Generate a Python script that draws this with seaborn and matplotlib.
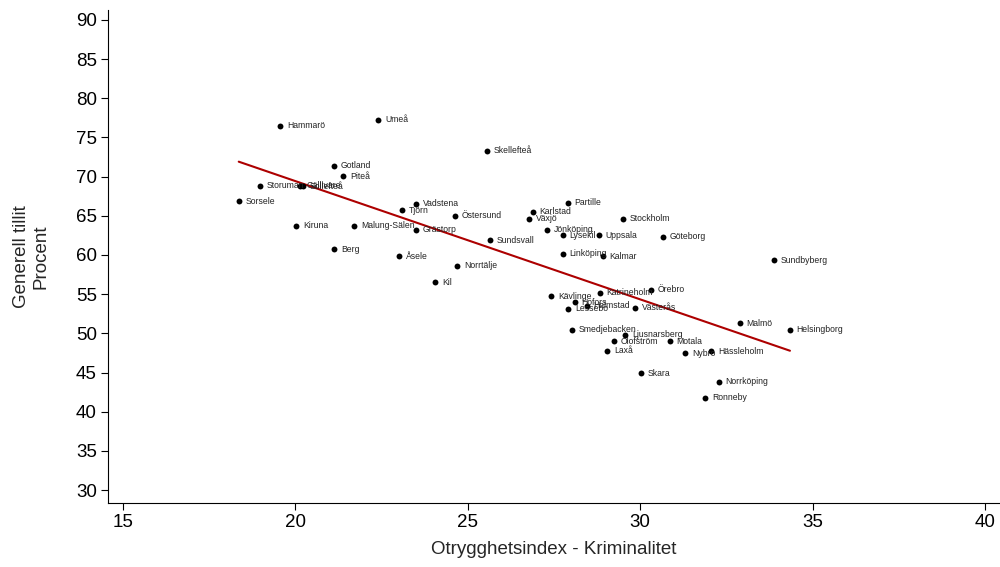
import matplotlib
matplotlib.use("Agg")
import matplotlib.pyplot as plt
import seaborn as sns
import pandas as pd
import numpy as np

kommuner = ["Hammarö", "Umeå", "Skellefteå", "Gotland", "Piteå", "Storuman",
            "Gällivare", "Sollefteå", "Sorsele", "Vadstena", "Tjörn", "Östersund",
            "Kiruna", "Malung-Sälen", "Grästorp", "Berg", "Åsele", "Norrtälje",
            "Kil", "Sundsvall", "Partille", "Karlstad", "Växjö", "Jönköping",
            "Lysekil", "Uppsala", "Stockholm", "Göteborg", "Linköping", "Kalmar",
            "Sundbyberg", "Kävlinge", "Katrineholm", "Örebro", "Hofors", "Halmstad",
            "Lessebo", "Västerås", "Malmö", "Smedjebacken", "Ljusnarsberg",
            "Olofström", "Motala", "Laxå", "Nybro", "Hässleholm", "Skara",
            "Norrköping", "Ronneby", "Helsingborg"]

otrygghet = [19.57, 22.41, 25.56, 21.13, 21.39, 18.99,
             20.14, 20.21, 18.36, 23.51, 23.10, 24.64,
             20.03, 21.71, 23.51, 21.13, 23.01, 24.69,
             24.06, 25.65, 27.90, 26.89, 26.78, 27.30,
             27.76, 28.80, 29.50, 30.65, 27.76, 28.92,
             33.87, 27.42, 28.82, 30.31, 28.10, 28.45,
             27.91, 29.86, 32.88, 28.01, 29.57,
             29.23, 30.86, 29.04, 31.30, 32.06, 30.03,
             32.28, 31.89, 34.34]

tillit = [76.47, 77.23, 73.28, 71.36, 70.08, 68.81,
          68.81, 68.75, 66.89, 66.51, 65.74, 64.98,
          63.70, 63.70, 63.19, 60.76, 59.87, 58.60,
          56.55, 61.91, 66.64, 65.49, 64.60, 63.19,
          62.55, 62.55, 64.60, 62.30, 60.13, 59.87,
          59.36, 54.76, 55.19, 55.57, 53.96, 53.53,
          53.15, 53.28, 51.28, 50.47, 49.83,
          49.02, 49.02, 47.79, 47.45, 47.70, 44.90,
          43.79, 41.79, 50.47]

x_ticks = [15, 20, 25, 30, 35, 40]
y_ticks = [30, 35, 40, 45, 50, 55, 60, 65, 70, 75, 80, 85, 90]

df = pd.DataFrame({"kommun": kommuner, "x": otrygghet, "y": tillit})

sns.set_style("white")
plt.rcParams["font.family"] = ["Liberation Sans", "DejaVu Sans"]

fig = plt.figure(figsize=(10, 5.67), dpi=100)
ax = fig.add_axes([0.108, 0.1128, 0.891, 0.87])

sns.regplot(data=df, x="x", y="y", scatter=False, ci=None, ax=ax,
            line_kws={"color": "#ad0000", "linewidth": 1.5}, truncate=True)
sns.scatterplot(data=df, x="x", y="y", ax=ax, color="black", s=18,
                edgecolor="black", linewidth=0, zorder=3)

for _, r in df.iterrows():
    ax.annotate(r["kommun"], (r["x"], r["y"]), xytext=(4.8, 0),
                textcoords="offset points", fontsize=6.2, va="center",
                ha="left", color="#222222")

ax.set_xlim(14.57, 40.4)
ax.set_ylim(28.34, 91.3)
ax.set_xticks(x_ticks)
ax.set_yticks(y_ticks)
ax.tick_params(axis="both", which="major", direction="out", length=5,
               width=0.8, labelsize=13.5, colors="black", left=True, bottom=True,
               pad=3)
for lab in ax.get_yticklabels():
    lab.set_rotation(0)
ax.set_xlabel("Otrygghetsindex - Kriminalitet", fontsize=13.5, labelpad=7)
ax.set_ylabel("Generell tillit\nProcent", fontsize=13.5, labelpad=19)

for side in ["top", "right"]:
    ax.spines[side].set_visible(False)
for side in ["left", "bottom"]:
    ax.spines[side].set_color("black")
    ax.spines[side].set_linewidth(0.8)

fig.savefig("out.png", dpi=100, facecolor="white")
